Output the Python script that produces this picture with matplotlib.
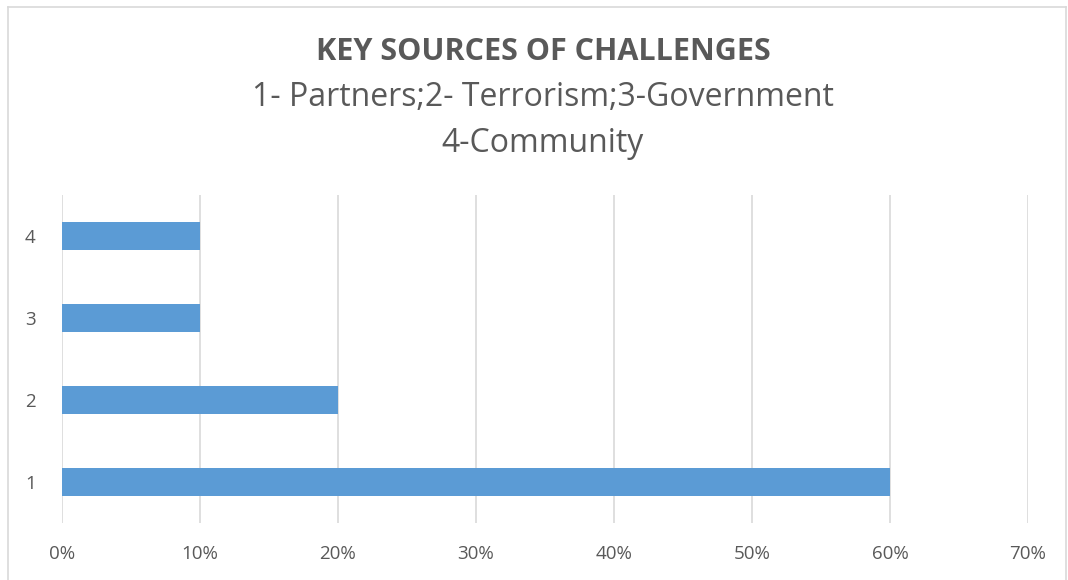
import matplotlib.pyplot as plt
from matplotlib.lines import Line2D
from matplotlib.ticker import PercentFormatter

categories = ['1', '2', '3', '4']
shares = [60, 20, 10, 10]
xticks = [0, 10, 20, 30, 40, 50, 60, 70]

W, H = 1068, 580
fig = plt.figure(figsize=(W / 100, H / 100), dpi=100)
plt.rcParams['font.family'] = ['Open Sans', 'DejaVu Sans']

# chart area border (light grey, Excel style)
top = 1 - 7 / H
for xs, ys in [([8, 8], [0, top]), ([8, 1066], [top, top]), ([1066, 1066], [top, 0])]:
    fig.add_artist(Line2D([x / W for x in xs], ys, transform=fig.transFigure,
                          color='#D9D9D9', lw=1.2))

ax = fig.add_axes([62 / W, 1 - 523 / H, (1028 - 62) / W, (523 - 195) / H])
ax.barh(range(len(categories)), shares, height=0.34, color='#5B9BD5', zorder=3)
ax.set_ylim(-0.5, len(categories) - 0.5)
ax.set_xlim(0, 70)
ax.set_yticks(range(len(categories)))
ax.set_yticklabels(categories)
ax.set_xticks(xticks)
ax.xaxis.set_major_formatter(PercentFormatter(decimals=0))
ax.grid(axis='x', color='#D9D9D9', lw=1.2, zorder=0)
for s in ax.spines.values():
    s.set_visible(False)
ax.tick_params(length=0, labelsize=13.5, colors='#595959')
ax.tick_params(axis='x', pad=16)
ax.tick_params(axis='y', pad=19)

fig.text(543 / W, 1 - 52 / H, 'KEY SOURCES OF CHALLENGES', ha='center', va='center',
         fontsize=22, fontweight='bold', color='#595959')
fig.text(543 / W, 1 - 98 / H, '1- Partners;2- Terrorism;3-Government', ha='center',
         va='center', fontsize=23, color='#595959')
fig.text(543 / W, 1 - 143 / H, '4-Community', ha='center', va='center',
         fontsize=23, color='#595959')

fig.savefig('out.png', dpi=100)
